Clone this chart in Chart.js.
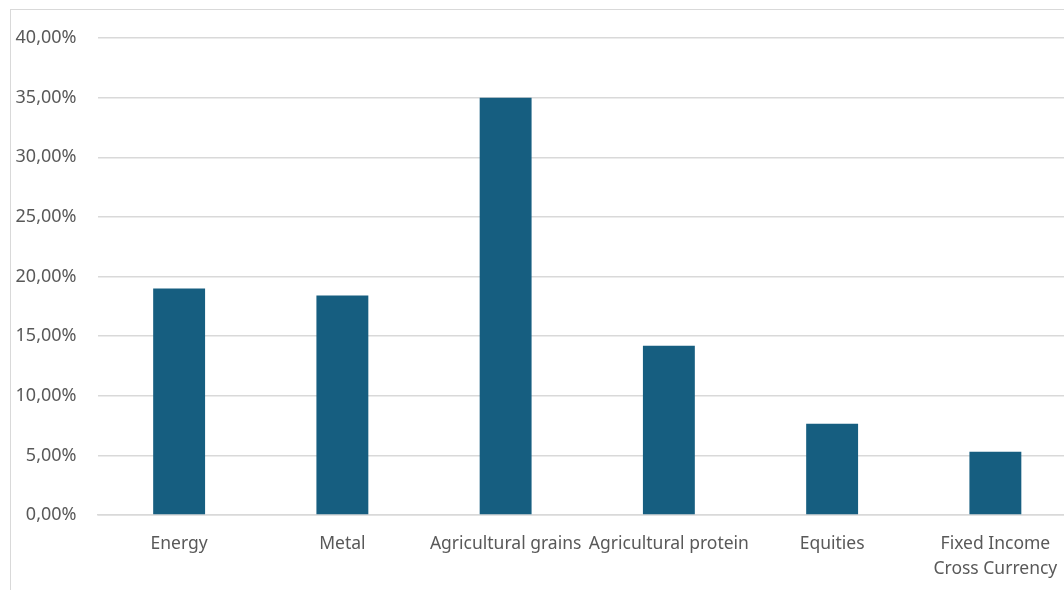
<!DOCTYPE html>
<html>
<head>
<meta charset="utf-8">
<script src="https://cdn.jsdelivr.net/npm/chart.js@4.4.1/dist/chart.umd.min.js"></script>
<style>
  html, body { margin: 0; padding: 0; background: #ffffff; overflow: hidden; width: 1064px; height: 590px; }
  #frame { position: absolute; left: 10px; top: 9px; width: 1100px; height: 620px; border: 1px solid #d9d9d9; box-sizing: border-box; }
  #wrap { position: absolute; left: 0px; top: 0px; width: 1080px; height: 581px; }
</style>
</head>
<body>
<div id="frame"><div id="wrap"><canvas id="c"></canvas></div></div>
<script>
// Asset classes and their share
const categories = ['Energy', 'Metal', 'Agricultural grains', 'Agricultural protein', 'Equities', ['Fixed Income', 'Cross Currency']];
const shares = [0.19, 0.184, 0.35, 0.142, 0.0765, 0.053];
const yTicks = [0, 0.05, 0.10, 0.15, 0.20, 0.25, 0.30, 0.35, 0.40];

const pct = v => (v * 100).toFixed(2).replace('.', ',') + '%';
const yFont = { family: 'Noto Sans', size: 18 };
const xFont = { family: 'Noto Sans', size: 17.5, lineHeight: 1.4 };

new Chart(document.getElementById('c'), {
  type: 'bar',
  data: {
    labels: categories,
    datasets: [{
      data: shares,
      backgroundColor: '#165e80',
      borderWidth: 0,
      barPercentage: 0.318,
      categoryPercentage: 1.0
    }]
  },
  options: {
    responsive: true,
    maintainAspectRatio: false,
    animation: false,
    layout: { padding: { top: 28, right: 14, bottom: 0, left: 0 } },
    plugins: { legend: { display: false }, tooltip: { enabled: false } },
    scales: {
      x: {
        grid: { display: false, drawTicks: false },
        border: { display: true, color: '#d9d9d9', width: 1.5 },
        ticks: { color: '#595959', font: xFont, padding: 17, maxRotation: 0, autoSkip: false },
        afterFit: s => { s.height = 76; s.paddingLeft = 0; s.paddingRight = 0; }
      },
      y: {
        min: 0,
        max: 0.40,
        afterBuildTicks: s => { s.ticks = yTicks.map(v => ({ value: v })); },
        grid: { color: '#d9d9d9', lineWidth: 1.5, drawTicks: false },
        border: { display: false },
        ticks: { color: '#595959', font: yFont, padding: 21, callback: v => pct(v) },
        afterFit: s => { s.width = 86.5; s.paddingTop = 0; s.paddingBottom = 0; }
      }
    }
  }
});
</script>
</body>
</html>
